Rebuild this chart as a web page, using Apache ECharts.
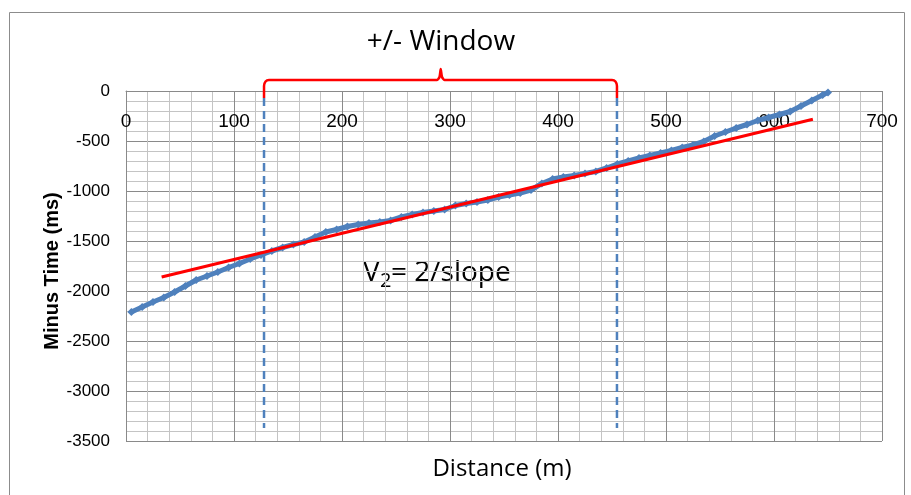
<!DOCTYPE html>
<html>
<head>
<meta charset="utf-8">
<title>Minus Time vs Distance</title>
<script src="https://cdn.jsdelivr.net/npm/echarts@6/dist/echarts.min.js"></script>
<style>
  html, body { margin: 0; padding: 0; background: #fff; }
  #chart { width: 911px; height: 495px; }
</style>
</head>
<body>
<div id="chart"></div>
<script>
// Minus-time picks along the line (m, ms)
const distance = [5, 15, 25, 35, 45, 55, 65, 75, 85, 95, 105, 115, 125, 135, 145, 155, 165, 175, 185, 195,
  205, 215, 225, 235, 245, 255, 265, 275, 285, 295, 305, 315, 325, 335, 345, 355, 365, 375, 385, 395,
  405, 415, 425, 435, 445, 455, 465, 475, 485, 495, 505, 515, 525, 535, 545, 555, 565, 575, 585, 595,
  605, 615, 625, 635, 645, 650];
const minusTime = [-2210, -2160, -2110, -2065, -2010, -1950, -1890, -1850, -1810, -1765, -1725, -1680,
  -1640, -1600, -1565, -1535, -1510, -1460, -1410, -1385, -1355, -1335, -1320, -1310, -1295, -1260,
  -1235, -1215, -1200, -1185, -1145, -1125, -1110, -1090, -1060, -1040, -1020, -990, -925, -880,
  -860, -845, -825, -805, -770, -730, -700, -670, -645, -620, -595, -565, -540, -505, -450, -410,
  -370, -335, -295, -265, -235, -205, -150, -95, -40, -15];

// Straight-line fit through the window
const fitX = [33, 636];
const fitY = [-1860, -283];

// Edges of the +/- window
const windowEdges = [127.8, 454.6];
const windowSpan = [-70, -3370];

// Curly bracket above the window
const bracketX = [127.8, 127.8, 129.2, 132.4, 288, 290.3, 291.4, 292.6, 294.9, 450, 453.2, 454.6, 454.6];
const bracketY = [-70, 50, 95, 110, 110, 140, 220, 140, 110, 110, 95, 50, -70];

// Axis ticks
const xTicks = { min: 0, max: 700, step: 100 };
const yTicks = { min: -3500, max: 0, step: 500 };

const FONT = 'Liberation Sans';
const MAJOR = '#8a8a8a';
const MINOR = '#c4c4c4';
const BLUE = '#4f81bd';

const zip = (xs, ys) => xs.map((x, i) => [x, ys[i]]);

const chart = echarts.init(document.getElementById('chart'), null, { renderer: 'canvas' });

const option = {
  animation: false,
  backgroundColor: '#fff',
  grid: { left: 126, top: 91, right: 29, bottom: 54, containLabel: false },
  xAxis: {
    type: 'value',
    position: 'top',
    min: xTicks.min, max: xTicks.max, interval: xTicks.step,
    axisLine: { show: true, onZero: false, lineStyle: { color: MAJOR, width: 1 } },
    axisTick: { show: false },
    axisLabel: { inside: true, margin: 21, fontFamily: FONT, fontSize: 19, color: '#000',
      formatter: v => String(v) },
    splitLine: { show: true, lineStyle: { color: MAJOR, width: 1 } },
    minorTick: { show: false, splitNumber: 5 },
    minorSplitLine: { show: true, lineStyle: { color: MINOR, width: 1 } }
  },
  yAxis: {
    type: 'value',
    min: yTicks.min, max: yTicks.max, interval: yTicks.step,
    axisLine: { show: true, onZero: false, lineStyle: { color: MAJOR, width: 1 } },
    axisTick: { show: false },
    axisLabel: { margin: 16, fontFamily: FONT, fontSize: 17, color: '#000',
      formatter: v => String(v) },
    splitLine: { show: true, lineStyle: { color: MAJOR, width: 1 } },
    minorTick: { show: false, splitNumber: 5 },
    minorSplitLine: { show: true, lineStyle: { color: MINOR, width: 1 } }
  },
  series: [
    {
      name: 'Minus time',
      type: 'line',
      data: zip(distance, minusTime),
      symbol: 'diamond',
      symbolSize: 8,
      showAllSymbol: true,
      itemStyle: { color: BLUE },
      lineStyle: { color: BLUE, width: 5 },
      z: 3
    },
    {
      name: 'Fit',
      type: 'line',
      data: zip(fitX, fitY),
      symbol: 'none',
      lineStyle: { color: '#ff0000', width: 3 },
      z: 4
    },
    {
      name: 'Window left',
      type: 'line',
      data: zip([windowEdges[0], windowEdges[0]], windowSpan),
      symbol: 'none',
      lineStyle: { color: BLUE, width: 2.5, type: [8, 5] },
      z: 2
    },
    {
      name: 'Window right',
      type: 'line',
      data: zip([windowEdges[1], windowEdges[1]], windowSpan),
      symbol: 'none',
      lineStyle: { color: BLUE, width: 2.5, type: [8, 5] },
      z: 2
    },
    {
      name: 'Bracket',
      type: 'line',
      data: zip(bracketX, bracketY),
      symbol: 'none',
      clip: false,
      smooth: 0.2,
      lineStyle: { color: '#ff0000', width: 2.5 },
      z: 4
    }
  ],
  graphic: [
    {
      type: 'rect',
      shape: { x: 9.5, y: 12.5, width: 895, height: 500 },
      style: { fill: 'none', stroke: '#8c8c8c', lineWidth: 1 },
      silent: true, z: -10
    },
    {
      type: 'text',
      x: 441, y: 42,
      style: { text: '+/- Window', fontFamily: 'Open Sans', fontSize: 28, fill: '#000', align: 'center', verticalAlign: 'middle' }
    },
    {
      type: 'text',
      x: 363, y: 273,
      style: { text: 'V', fontFamily: 'Open Sans', fontSize: 28, fill: '#000', align: 'left', verticalAlign: 'middle' }
    },
    {
      type: 'text',
      x: 380, y: 281,
      style: { text: '2', fontFamily: 'Open Sans', fontSize: 20, fill: '#000', align: 'left', verticalAlign: 'middle' }
    },
    {
      type: 'text',
      x: 391, y: 273,
      style: { text: '= 2/slope', fontFamily: 'Open Sans', fontSize: 28, fill: '#000', align: 'left', verticalAlign: 'middle' }
    },
    {
      type: 'text',
      x: 502, y: 469,
      style: { text: 'Distance (m)', fontFamily: 'Open Sans', fontSize: 24, fill: '#000', align: 'center', verticalAlign: 'middle' }
    },
    {
      type: 'text',
      x: 52, y: 271,
      rotation: Math.PI / 2,
      style: { text: 'Minus Time (ms)', fontFamily: FONT, fontSize: 20, fontWeight: 'bold', fill: '#000', align: 'center', verticalAlign: 'middle' }
    }
  ]
};

chart.setOption(option);
</script>
</body>
</html>
